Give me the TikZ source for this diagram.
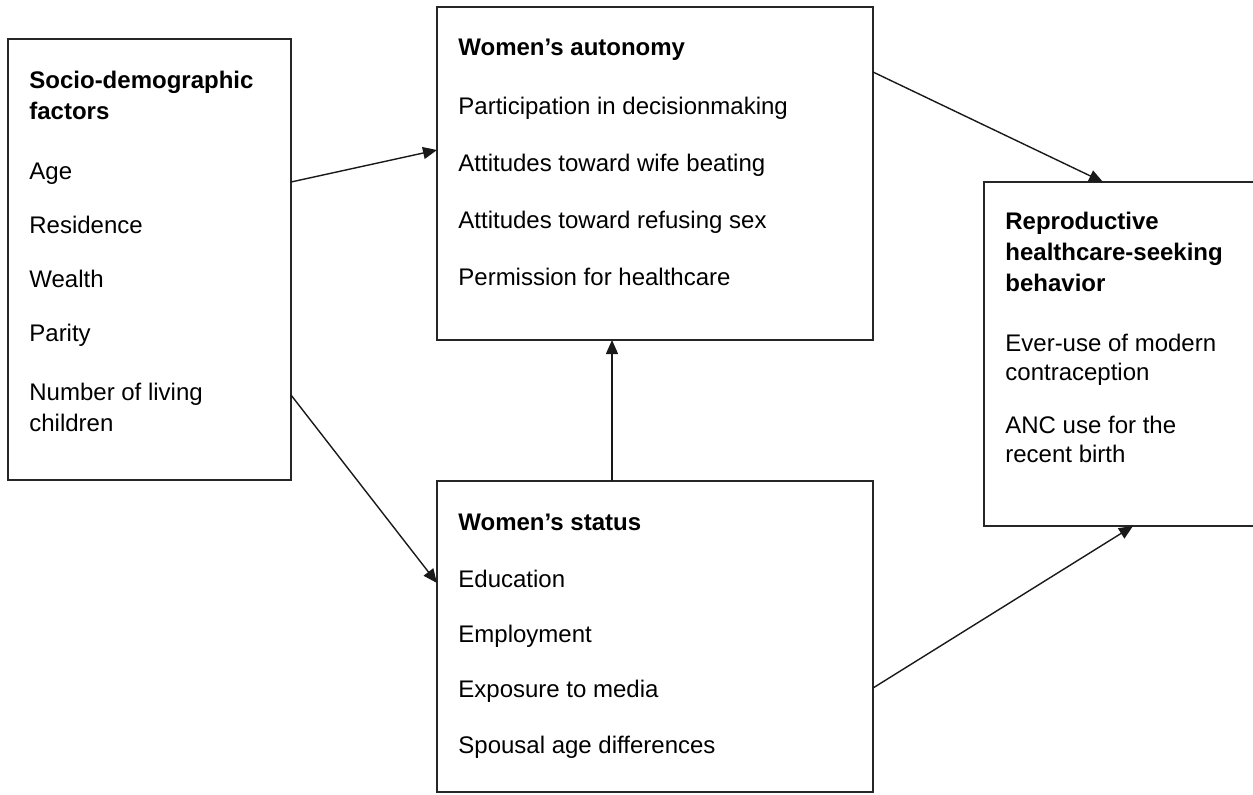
\documentclass[tikz,border=0pt]{standalone}
\usepackage{fontspec}
\setmainfont{Liberation Sans}
\usetikzlibrary{arrows.meta}
\tikzset{
  box/.style={draw=black!85, line width=1pt, rectangle, inner sep=0pt, outer sep=0pt, anchor=north west},
  txt/.style={anchor=base west, inner sep=0pt, font=\fontsize{12}{14}\selectfont},
  ttl/.style={txt, font=\fontsize{12}{14}\selectfont\bfseries},
  link/.style={draw=black!90, line width=0.7pt, -{Triangle[length=7pt,width=6pt]}}
}
\begin{document}
\begin{tikzpicture}[x=0.5pt, y=-0.5pt]
    \useasboundingbox (0,0) rectangle (1253,794);
    \clip (0,0) rectangle (1253,794);
    % boxes, sizes in pt (one pixel of the page is 0.5pt)
    \node[box, minimum width=141.5pt, minimum height=220.5pt] (socio) at (8,39) {};
    \node[box, minimum width=218pt, minimum height=166.5pt] (autonomy) at (437,7) {};
    \node[box, minimum width=218pt, minimum height=155.5pt] (status) at (437,481) {};
    \node[box, minimum width=140pt, minimum height=172pt] (repro) at (984,182) {}; % runs past the right edge

    \node[ttl] (socT1) at (29,88) {Socio-demographic};
    \node[ttl] (socT2) at (29,119) {factors};
    \node[txt] (age) at (29,179) {Age};
    \node[txt] (res) at (29,233) {Residence};
    \node[txt] (wealth) at (29,287) {Wealth};
    \node[txt] (parity) at (29,341) {Parity};
    \node[txt] (liv1) at (29,400) {Number of living};
    \node[txt] (liv2) at (29,431) {children};

    \node[ttl] (autT) at (458,55) {Women’s autonomy};
    \node[txt] (dec) at (458,114) {Participation in decisionmaking};
    \node[txt] (beat) at (458,171) {Attitudes toward wife beating};
    \node[txt] (sex) at (458,228) {Attitudes toward refusing sex};
    \node[txt] (perm) at (458,285) {Permission for healthcare};

    \node[ttl] (staT) at (458,530) {Women’s status};
    \node[txt] (edu) at (458,587) {Education};
    \node[txt] (emp) at (458,642) {Employment};
    \node[txt] (media) at (458,697) {Exposure to media};
    \node[txt] (spouse) at (458,753) {Spousal age differences};

    \node[ttl] (repT1) at (1005,229) {Reproductive};
    \node[ttl] (repT2) at (1005,260) {healthcare-seeking};
    \node[ttl] (repT3) at (1005,291) {behavior};
    \node[txt] (cont1) at (1005,351) {Ever-use of modern};
    \node[txt] (cont2) at (1005,380) {contraception};
    \node[txt] (anc1) at (1005,433) {ANC use for the};
    \node[txt] (anc2) at (1005,462) {recent birth};

    \draw[link] (socio.east |- 0,182) -- (autonomy.west |- 0,150);
    \draw[link] (socio.east |- 0,395) -- (status.west |- 0,583);
    \draw[link] (612,0 |- status.north) -- (612,0 |- autonomy.south);
    \draw[link] (autonomy.east |- 0,72) -- (1103,0 |- repro.north);
    \draw[link] (status.east |- 0,688) -- (1133,0 |- repro.south);
\end{tikzpicture}
\end{document}
